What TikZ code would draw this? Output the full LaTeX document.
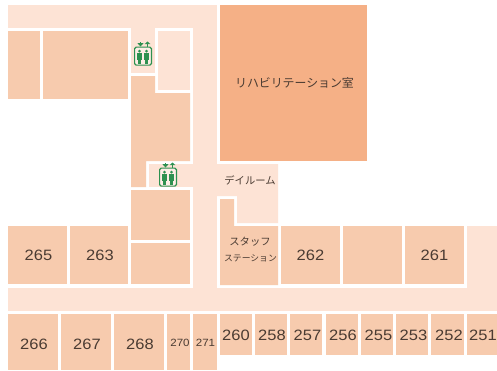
\documentclass[tikz,border=0pt]{standalone}
\usepackage{fontspec}
\setmainfont{Liberation Sans}
\newfontfamily\numf[FakeStretch=1.1]{Liberation Sans}
\newfontfamily\jpf{Noto Sans CJK JP}
\definecolor{hall}{HTML}{FDE3D5}
\definecolor{room}{HTML}{F7CBAE}
\definecolor{rehab}{HTML}{F5B086}
\definecolor{ink}{HTML}{4A3B32}
\definecolor{lift}{HTML}{2E9150}
\tikzset{
  hallfill/.style={fill=hall},
  roomfill/.style={fill=room},
  num/.style={text=ink,font=\numf\fontsize{15}{15}\selectfont,inner sep=0pt},
  smallnum/.style={text=ink,font=\numf\fontsize{10.5}{11}\selectfont,inner sep=0pt},
  jp/.style={text=ink,font=\jpf\fontsize{10.3}{12}\selectfont,inner sep=0pt},
  jplarge/.style={text=ink,font=\jpf\fontsize{11.9}{13}\selectfont,inner sep=0pt},
  jpsmall/.style={text=ink,font=\jpf\fontsize{8.8}{10}\selectfont,inner sep=0pt},
  pics/lifticon/.style={code={
    \draw[lift,line width=1.2pt,rounded corners=1.5pt,fill=hall!60!white] (0.6,5.6) rectangle (17.4,23.6);
    \foreach \p in {5.4,12.6}{
      \fill[lift] (\p,9.6) circle (1.5);
      \fill[lift] (\p-2.4,11.4) rectangle (\p+2.4,18);
      \fill[lift] (\p-1.8,18) rectangle (\p+1.8,22.2);
    }
    \fill[lift] (3.4,1.6) -- (9.6,1.6) -- (6.5,5) -- cycle;
    \fill[lift] (5.6,0) rectangle (7.4,2);
    \fill[lift] (10.6,2.6) -- (16.4,2.6) -- (13.5,0) -- cycle;
    \fill[lift] (12.6,2.5) rectangle (14.4,5);
  }}
}
\begin{document}
\begin{tikzpicture}[x=1pt,y=-1pt]
\useasboundingbox (0,0) rectangle (497,370);
\fill[white] (0,0) rectangle (497,370);
% corridors and pale rooms
\fill[hallfill] (8,5) rectangle (217,28);
\fill[hallfill] (131,28) rectangle (155,73);
\fill[hallfill] (158,31) rectangle (190,90);
\fill[hallfill] (193,5) rectangle (217,290);
\fill[hallfill] (149,164) rectangle (193,187);
\fill[hallfill] (217,164) -- (278,164) -- (278,223) -- (237,223) -- (237,196) -- (217,196) -- cycle;
\fill[hallfill] (8,287.5) rectangle (497,311);
\fill[hallfill] (467,226) rectangle (497,311);
% rehabilitation room
\fill[rehab] (220,5) rectangle (366.5,161);
% upper rooms
\fill[roomfill] (8,31) rectangle (40,99);
\fill[roomfill] (43,31) rectangle (128,99);
\fill[roomfill] (131,76) -- (155,76) -- (155,93) -- (190,93) -- (190,161) -- (146,161) -- (146,187) -- (131,187) -- cycle;
\fill[roomfill] (131,190) rectangle (190,240);
\fill[roomfill] (131,243) rectangle (190,284);
% staff station
\fill[roomfill] (220,199) -- (234,199) -- (234,226) -- (278,226) -- (278,285) -- (220,285) -- cycle;
% middle row
\fill[roomfill] (8,226) rectangle (67,284);
\fill[roomfill] (70,226) rectangle (128,284);
\fill[roomfill] (281,225.5) rectangle (340,284);
\fill[roomfill] (343,225.5) rectangle (402,284);
\fill[roomfill] (405,225.5) rectangle (464,284);
% bottom row
\fill[roomfill] (8,314) rectangle (58,370);
\fill[roomfill] (61,314) rectangle (111,370);
\fill[roomfill] (114,314) rectangle (164,370);
\fill[roomfill] (167,314) rectangle (190,370);
\fill[roomfill] (193,314) rectangle (217,370);
\fill[roomfill] (220,314) rectangle (252,355);
\fill[roomfill] (255,314) rectangle (287,355);
\fill[roomfill] (290,314) rectangle (322,355);
\fill[roomfill] (326,314) rectangle (358,355);
\fill[roomfill] (361,314) rectangle (393,355);
\fill[roomfill] (396,314) rectangle (428,355);
\fill[roomfill] (431,314) rectangle (464,355);
\fill[roomfill] (467,314) rectangle (497,355);
% lifts
\pic at (134,41.5) {lifticon};
\pic at (159,162.5) {lifticon};
% labels
\node[jplarge] (rehablabel) at (294.5,83) {リハビリテーション室};
\node[jp] (dayroom) at (250,180.5) {デイルーム};
\node[jp] (staff) at (250,242) {スタッフ};
\node[jpsmall] (station) at (250.5,258.5) {ステーション};
\node[num] (r265) at (38.5,255) {265};
\node[num] (r263) at (100,255) {263};
\node[num] (r262) at (310.5,255) {262};
\node[num] (r261) at (434.5,255) {261};
\node[num] (r266) at (34,344) {266};
\node[num] (r267) at (87,344) {267};
\node[num] (r268) at (140,344) {268};
\node[smallnum] (r270) at (180,343) {270};
\node[smallnum] (r271) at (205.5,343) {271};
\node[num] (r260) at (236,335) {260};
\node[num] (r258) at (272,335) {258};
\node[num] (r257) at (307.5,335) {257};
\node[num] (r256) at (343,335) {256};
\node[num] (r255) at (378.5,335) {255};
\node[num] (r253) at (413.5,335) {253};
\node[num] (r252) at (449,335) {252};
\node[num] (r251) at (483,335) {251};
\end{tikzpicture}
\end{document}
